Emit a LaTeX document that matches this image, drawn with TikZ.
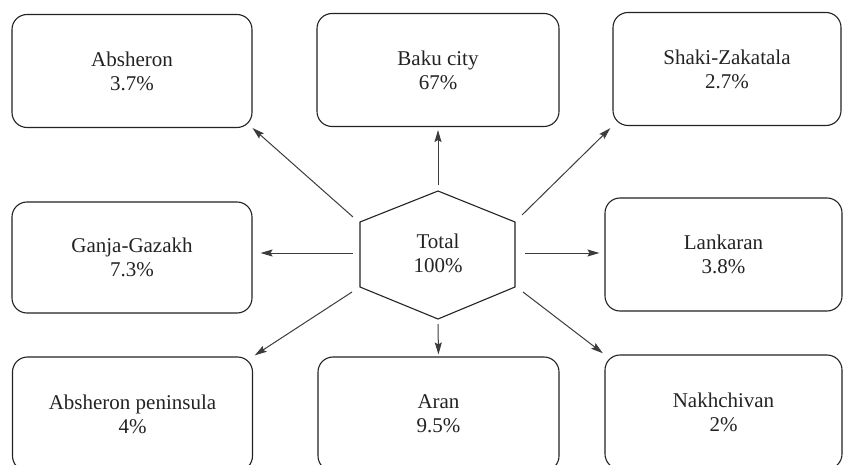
\documentclass[tikz,border=0pt]{standalone}
\usepackage{fontspec}
\setmainfont{Liberation Serif}
\usetikzlibrary{arrows.meta,calc}
\definecolor{inkgrey}{RGB}{35,35,35}
\definecolor{arrowgrey}{RGB}{60,60,60}

\begin{document}
\begin{tikzpicture}[x=1pt, y=-1pt,
    region/.style={rectangle, draw=inkgrey, line width=1.1pt, rounded corners=15pt, fill=white,
                   minimum width=240pt, minimum height=113pt, inner sep=0pt,
                   font=\fontsize{21}{24}\selectfont, text=inkgrey, align=center},
    total/.style={font=\fontsize{21}{24}\selectfont, text=inkgrey, align=center, inner sep=0pt},
    hex/.style={draw=inkgrey, line width=1.1pt, line join=miter},
    arr/.style={-{Stealth[length=12pt, width=7pt, inset=2pt]}, line width=1pt, draw=arrowgrey}
]
    \clip (0,0) rectangle (843,465);
    \fill[white] (0,0) rectangle (843,465);

    % Top row
    \node[region] (absh)  at (132,71)    {Absheron\\3.7\%};
    \node[region, minimum width=242pt] (baku) at (438,70) {Baku city\\67\%};
    \node[region, minimum width=228pt] (shaki) at (727,69) {Shaki-Zakatala\\2.7\%};
    % Middle row
    \node[region, minimum height=111pt] (ganja) at (132,257.5) {Ganja-Gazakh\\7.3\%};
    \node[region, minimum width=237pt] (lank) at (723.5,254.5) {Lankaran\\3.8\%};
    % Bottom row (cut by the lower edge)
    \node[region, minimum height=114pt] (pen)  at (132.5,414) {Absheron peninsula\\4\%};
    \node[region, minimum width=241pt, minimum height=114pt] (aran) at (438.5,414) {Aran\\9.5\%};
    \node[region, minimum width=237pt, minimum height=114pt] (nakh) at (723.5,412) {Nakhchivan\\2\%};

    % Centre hexagon
    \coordinate (hN)  at (438,191);
    \coordinate (hNE) at (515,222);
    \coordinate (hSE) at (515,287);
    \coordinate (hS)  at (438,319);
    \coordinate (hSW) at (360,287);
    \coordinate (hNW) at (360,222);
    \draw[hex] (hN) -- (hNE) -- (hSE) -- (hS) -- (hSW) -- (hNW) -- cycle;
    \node[total] (tot) at (438,253) {Total\\100\%};

    % Arrow starts around the hexagon
    \coordinate (sNW) at (353,217);
    \coordinate (sN)  at (438,185);
    \coordinate (sNE) at (522,215);
    \coordinate (sW)  at (353,253);
    \coordinate (sE)  at (525,253);
    \coordinate (sSW) at (352,292);
    \coordinate (sS)  at (438,324);
    \coordinate (sSE) at (523,292);

    \draw[arr] (sNW) -- (absh.south east);
    \draw[arr, shorten >=3pt] (sN) -- (baku.south);
    \draw[arr, shorten >=3pt] (sNE) -- (shaki.south west);
    \draw[arr, shorten >=8pt] (sW) -- (sW -| ganja.east);
    \draw[arr, shorten >=5pt] (sE) -- (sE -| lank.west);
    \draw[arr, shorten >=2pt] (sSW) -- (pen.north east);
    \draw[arr, shorten >=2pt] (sS) -- (aran.north);
    \draw[arr, shorten >=2pt] (sSE) -- (nakh.north west);
\end{tikzpicture}
\end{document}
